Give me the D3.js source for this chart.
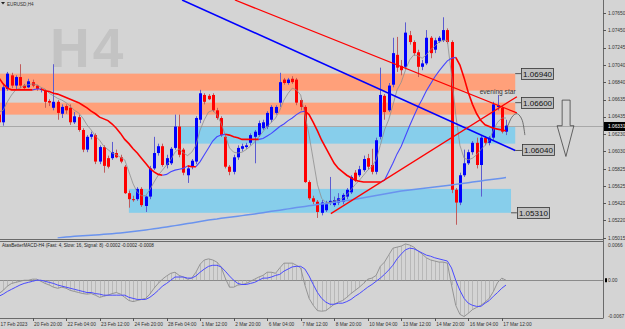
<!DOCTYPE html>
<html>
<head>
<meta charset="utf-8">
<script src="https://cdn.jsdelivr.net/npm/d3@7"></script>
<style>
html, body { margin: 0; padding: 0; background: #d4d4d4; overflow: hidden; }
svg { display: block; font-family: "Liberation Sans", Arial, sans-serif; }
</style>
</head>
<body>
<div id="chart"></div>
<script>
// EURUSD H4 bars, 17 Feb -> 17 Mar 2023
const open = [
  1.0646, 1.0637, 1.0676, 1.0692, 1.0680, 1.0690, 1.0680, 1.0678, 1.0684, 1.0680,
  1.0675, 1.0674, 1.0662, 1.0654, 1.0661, 1.0647, 1.0656, 1.0654, 1.0637, 1.0643,
  1.0628, 1.0605, 1.0620, 1.0622, 1.0591, 1.0608, 1.0595, 1.0595, 1.0601, 1.0596,
  1.0585, 1.0554, 1.0547, 1.0547, 1.0559, 1.0539, 1.0550, 1.0583, 1.0601, 1.0609,
  1.0587, 1.0589, 1.0607, 1.0632, 1.0605, 1.0575, 1.0585, 1.0591, 1.0640, 1.0669,
  1.0668, 1.0669, 1.0651, 1.0642, 1.0620, 1.0585, 1.0579, 1.0596, 1.0606, 1.0608,
  1.0613, 1.0620, 1.0622, 1.0630, 1.0632, 1.0640, 1.0648, 1.0660, 1.0687, 1.0683,
  1.0688, 1.0687, 1.0663, 1.0655, 1.0567, 1.0548, 1.0544, 1.0531, 1.0534, 1.0543,
  1.0540, 1.0543, 1.0544, 1.0550, 1.0555, 1.0578, 1.0575, 1.0581, 1.0595, 1.0587,
  1.0579, 1.0620, 1.0668, 1.0651, 1.0681, 1.0716, 1.0703, 1.0702, 1.0739, 1.0731,
  1.0719, 1.0702, 1.0706, 1.0736, 1.0722, 1.0732, 1.0733, 1.0745, 1.0731, 1.0558,
  1.0543, 1.0575, 1.0589, 1.0602, 1.0613, 1.0587, 1.0619, 1.0613, 1.0619, 1.0655,
  1.0654, 1.0626
];
const high = [
  1.0651, 1.0682, 1.0696, 1.0695, 1.0692, 1.0705, 1.0682, 1.0688, 1.0687, 1.0681,
  1.0677, 1.0676, 1.0664, 1.0705, 1.0663, 1.0658, 1.0658, 1.0658, 1.0649, 1.0646,
  1.0630, 1.0622, 1.0626, 1.0624, 1.0610, 1.0610, 1.0598, 1.0614, 1.0605, 1.0599,
  1.0587, 1.0557, 1.0551, 1.0561, 1.0561, 1.0551, 1.0586, 1.0620, 1.0612, 1.0612,
  1.0599, 1.0608, 1.0646, 1.0646, 1.0607, 1.0586, 1.0594, 1.0644, 1.0675, 1.0671,
  1.0670, 1.0671, 1.0654, 1.0644, 1.0622, 1.0587, 1.0599, 1.0610, 1.0612, 1.0613,
  1.0624, 1.0628, 1.0639, 1.0640, 1.0650, 1.0657, 1.0657, 1.0695, 1.0689, 1.0689,
  1.0691, 1.0689, 1.0665, 1.0657, 1.0569, 1.0551, 1.0546, 1.0546, 1.0545, 1.0573,
  1.0550, 1.0554, 1.0554, 1.0560, 1.0575, 1.0581, 1.0586, 1.0598, 1.0600, 1.0606,
  1.0619, 1.0701, 1.0670, 1.0683, 1.0736, 1.0737, 1.0710, 1.0754, 1.0744, 1.0733,
  1.0722, 1.0710, 1.0745, 1.0738, 1.0736, 1.0738, 1.0760, 1.0747, 1.0733, 1.0560,
  1.0578, 1.0605, 1.0605, 1.0615, 1.0619, 1.0621, 1.0621, 1.0621, 1.0661, 1.0669,
  1.0656, 1.0640
];
const low = [
  1.0635, 1.0633, 1.0674, 1.0677, 1.0675, 1.0677, 1.0675, 1.0677, 1.0678, 1.0674,
  1.0672, 1.0654, 1.0656, 1.0651, 1.0640, 1.0642, 1.0647, 1.0634, 1.0635, 1.0626,
  1.0602, 1.0602, 1.0617, 1.0588, 1.0588, 1.0578, 1.0583, 1.0593, 1.0595, 1.0589,
  1.0553, 1.0537, 1.0544, 1.0545, 1.0538, 1.0532, 1.0547, 1.0581, 1.0598, 1.0585,
  1.0583, 1.0587, 1.0605, 1.0596, 1.0575, 1.0566, 1.0582, 1.0588, 1.0636, 1.0658,
  1.0663, 1.0649, 1.0640, 1.0620, 1.0583, 1.0575, 1.0576, 1.0593, 1.0603, 1.0606,
  1.0610, 1.0589, 1.0620, 1.0628, 1.0629, 1.0637, 1.0646, 1.0655, 1.0681, 1.0681,
  1.0682, 1.0657, 1.0651, 1.0566, 1.0546, 1.0541, 1.0525, 1.0528, 1.0532, 1.0540,
  1.0538, 1.0540, 1.0541, 1.0547, 1.0553, 1.0567, 1.0573, 1.0579, 1.0582, 1.0576,
  1.0576, 1.0617, 1.0640, 1.0649, 1.0678, 1.0696, 1.0692, 1.0699, 1.0728, 1.0715,
  1.0690, 1.0698, 1.0704, 1.0712, 1.0718, 1.0730, 1.0731, 1.0729, 1.0554, 1.0517,
  1.0540, 1.0573, 1.0587, 1.0599, 1.0583, 1.0550, 1.0610, 1.0610, 1.0616, 1.0651,
  1.0624, 1.0622
];
const close = [
  1.0637, 1.0678, 1.0694, 1.0680, 1.0690, 1.0680, 1.0677, 1.0685, 1.0680, 1.0676,
  1.0676, 1.0661, 1.0660, 1.0661, 1.0648, 1.0655, 1.0651, 1.0637, 1.0644, 1.0628,
  1.0605, 1.0620, 1.0623, 1.0591, 1.0608, 1.0586, 1.0585, 1.0602, 1.0596, 1.0591,
  1.0554, 1.0547, 1.0546, 1.0559, 1.0540, 1.0550, 1.0583, 1.0601, 1.0609, 1.0587,
  1.0595, 1.0606, 1.0632, 1.0599, 1.0578, 1.0583, 1.0592, 1.0642, 1.0671, 1.0661,
  1.0664, 1.0651, 1.0642, 1.0622, 1.0585, 1.0579, 1.0596, 1.0607, 1.0609, 1.0610,
  1.0622, 1.0626, 1.0636, 1.0637, 1.0648, 1.0655, 1.0655, 1.0684, 1.0683, 1.0687,
  1.0684, 1.0660, 1.0655, 1.0567, 1.0548, 1.0544, 1.0532, 1.0543, 1.0541, 1.0545,
  1.0546, 1.0548, 1.0552, 1.0558, 1.0573, 1.0569, 1.0582, 1.0594, 1.0585, 1.0579,
  1.0616, 1.0669, 1.0649, 1.0680, 1.0718, 1.0701, 1.0698, 1.0742, 1.0731, 1.0718,
  1.0702, 1.0706, 1.0736, 1.0718, 1.0733, 1.0736, 1.0745, 1.0731, 1.0558, 1.0543,
  1.0575, 1.0589, 1.0602, 1.0613, 1.0587, 1.0619, 1.0613, 1.0619, 1.0658, 1.0657,
  1.0626, 1.06331
];

// two-colour moving average (red falling, blue rising)
const midMA = [
  1.0689, 1.0682, 1.0677, 1.0675, 1.0675, 1.0675, 1.0675, 1.0675, 1.0675, 1.0676,
  1.0676, 1.0674, 1.0673, 1.0671, 1.0670, 1.0668, 1.0666, 1.0664, 1.0662, 1.0660,
  1.0657, 1.0654, 1.0650, 1.0647, 1.0643, 1.0641, 1.0639, 1.0635, 1.0630, 1.0624,
  1.0617, 1.0612, 1.0606, 1.0601, 1.0595, 1.0589, 1.0583, 1.0579, 1.0576, 1.0575,
  1.0576, 1.0579, 1.0581, 1.0582, 1.0583, 1.0586, 1.0585, 1.0585, 1.0591, 1.0599,
  1.0607, 1.0615, 1.0620, 1.0622, 1.0623, 1.0622, 1.0620, 1.0619, 1.0617, 1.0617,
  1.0617, 1.0617, 1.0617, 1.0618, 1.0621, 1.0624, 1.0628, 1.0632, 1.0635, 1.0639,
  1.0642, 1.0646, 1.0649, 1.0650, 1.0646, 1.0637, 1.0627, 1.0616, 1.0607, 1.0598,
  1.0589, 1.0583, 1.0579, 1.0575, 1.0572, 1.0569, 1.0568, 1.0567, 1.0567, 1.0567,
  1.0567, 1.0567, 1.0569, 1.0579, 1.0589, 1.0600, 1.0609, 1.0621, 1.0633, 1.0644,
  1.0655, 1.0664, 1.0674, 1.0682, 1.0690, 1.0697, 1.0703, 1.0709, 1.0712, 1.0713,
  1.0704, 1.0689, 1.0672, 1.0658, 1.0647, 1.0639, 1.0634, 1.0632, 1.0630, 1.0629,
  1.0628, 1.0627
];
// fast grey moving average
const fastMA = [
  1.0649, 1.0651, 1.0661, 1.0669, 1.0675, 1.0677, 1.0680, 1.0681, 1.0682, 1.0681,
  1.0678, 1.0676, 1.0671, 1.0668, 1.0665, 1.0663, 1.0660, 1.0656, 1.0651, 1.0648,
  1.0642, 1.0634, 1.0628, 1.0621, 1.0616, 1.0609, 1.0605, 1.0601, 1.0599, 1.0596,
  1.0593, 1.0579, 1.0565, 1.0555, 1.0551, 1.0551, 1.0558, 1.0567, 1.0575, 1.0581,
  1.0587, 1.0593, 1.0602, 1.0606, 1.0601, 1.0598, 1.0602, 1.0610, 1.0628, 1.0640,
  1.0649, 1.0651, 1.0646, 1.0636, 1.0622, 1.0607, 1.0602, 1.0601, 1.0602, 1.0605,
  1.0609, 1.0614, 1.0620, 1.0626, 1.0632, 1.0637, 1.0642, 1.0651, 1.0663, 1.0671,
  1.0677, 1.0675, 1.0669, 1.0646, 1.0622, 1.0593, 1.0564, 1.0548, 1.0543, 1.0543,
  1.0545, 1.0546, 1.0548, 1.0552, 1.0558, 1.0564, 1.0569, 1.0575, 1.0581, 1.0585,
  1.0593, 1.0610, 1.0628, 1.0640, 1.0657, 1.0675, 1.0684, 1.0698, 1.0710, 1.0716,
  1.0715, 1.0712, 1.0716, 1.0722, 1.0726, 1.0731, 1.0733, 1.0733, 1.0692, 1.0646,
  1.0610, 1.0595, 1.0593, 1.0595, 1.0599, 1.0605, 1.0610, 1.0616, 1.0628, 1.0637,
  1.0642, 1.0642
];
// slow light-blue moving average (below the window before bar 14)
const slowMA = [
  null, null, null, null, null, null, null, null, null, null,
  null, null, null, null, 1.05015, 1.05021, 1.05027, 1.05031, 1.05035, 1.05038,
  1.05041, 1.05044, 1.05048, 1.05051, 1.05054, 1.05058, 1.05062, 1.05066, 1.05070, 1.05074,
  1.05079, 1.05084, 1.05090, 1.05096, 1.05102, 1.05109, 1.05116, 1.05123, 1.05130, 1.05137,
  1.05144, 1.05152, 1.05160, 1.05167, 1.05175, 1.05184, 1.05191, 1.05199, 1.05207, 1.05216,
  1.05226, 1.05232, 1.05237, 1.05245, 1.05252, 1.05259, 1.05265, 1.05271, 1.05277, 1.05284,
  1.05290, 1.05297, 1.05304, 1.05312, 1.05319, 1.05327, 1.05334, 1.05341, 1.05349, 1.05356,
  1.05364, 1.05371, 1.05378, 1.05385, 1.05392, 1.05399, 1.05406, 1.05413, 1.05420, 1.05426,
  1.05433, 1.05440, 1.05447, 1.05453, 1.05460, 1.05469, 1.05478, 1.05487, 1.05495, 1.05504,
  1.05513, 1.05522, 1.05530, 1.05539, 1.05548, 1.05556, 1.05565, 1.05571, 1.05577, 1.05583,
  1.05589, 1.05595, 1.05601, 1.05607, 1.05613, 1.05619, 1.05625, 1.05630, 1.05636, 1.05643,
  1.05650, 1.05656, 1.05663, 1.05670, 1.05676, 1.05683, 1.05690, 1.05696, 1.05703, 1.05710,
  1.05716, 1.05723
];

// MACD sub-window
const macd = [
  -0.0025, -0.0019, -0.0011, -0.0006, -0.0004, -0.0002, 0.0000, 0.0000, 0.0002, 0.0002,
  -0.0002, -0.0006, -0.0009, -0.0013, -0.0015, -0.0013, -0.0015, -0.0019, -0.0021, -0.0023,
  -0.0025, -0.0026, -0.0025, -0.0028, -0.0032, -0.0030, -0.0028, -0.0025, -0.0023, -0.0026,
  -0.0032, -0.0038, -0.0040, -0.0038, -0.0036, -0.0034, -0.0026, -0.0015, -0.0006, 0.0002,
  0.0008, 0.0013, 0.0015, 0.0009, 0.0006, 0.0002, 0.0004, 0.0015, 0.0030, 0.0038,
  0.0040, 0.0038, 0.0034, 0.0025, 0.0004, -0.0013, -0.0013, -0.0009, -0.0008, -0.0006,
  -0.0002, 0.0002, 0.0006, 0.0009, 0.0015, 0.0015, 0.0013, 0.0023, 0.0032, 0.0032,
  0.0032, 0.0028, 0.0023, -0.0009, -0.0034, -0.0047, -0.0057, -0.0058, -0.0057, -0.0051,
  -0.0045, -0.0041, -0.0038, -0.0032, -0.0025, -0.0019, -0.0013, -0.0006, 0.0002, 0.0004,
  0.0009, 0.0026, 0.0034, 0.0047, 0.0060, 0.0062, 0.0064, 0.0068, 0.0066, 0.0062,
  0.0055, 0.0049, 0.0042, 0.0038, 0.0036, 0.0034, 0.0034, 0.0032, -0.0009, -0.0047,
  -0.0064, -0.0068, -0.0062, -0.0055, -0.0051, -0.0047, -0.0041, -0.0034, -0.0021, -0.0004,
  0.0004, 0.0000
];
const signal = [
  -0.0030, -0.0026, -0.0021, -0.0017, -0.0013, -0.0009, -0.0006, -0.0004, -0.0002, 0.0000,
  0.0000, -0.0002, -0.0004, -0.0006, -0.0009, -0.0011, -0.0013, -0.0015, -0.0017, -0.0019,
  -0.0021, -0.0023, -0.0023, -0.0025, -0.0026, -0.0028, -0.0028, -0.0028, -0.0028, -0.0028,
  -0.0028, -0.0032, -0.0034, -0.0036, -0.0036, -0.0036, -0.0032, -0.0026, -0.0019, -0.0011,
  -0.0006, 0.0000, 0.0006, 0.0006, 0.0006, 0.0004, 0.0004, 0.0008, 0.0015, 0.0021,
  0.0026, 0.0028, 0.0028, 0.0025, 0.0017, 0.0008, 0.0000, -0.0006, -0.0008, -0.0008,
  -0.0006, -0.0004, 0.0000, 0.0004, 0.0004, 0.0006, 0.0009, 0.0011, 0.0017, 0.0021,
  0.0025, 0.0026, 0.0026, 0.0021, 0.0008, -0.0008, -0.0023, -0.0034, -0.0041, -0.0045,
  -0.0045, -0.0043, -0.0043, -0.0040, -0.0036, -0.0030, -0.0025, -0.0019, -0.0013, -0.0008,
  -0.0002, 0.0004, 0.0011, 0.0019, 0.0028, 0.0040, 0.0049, 0.0057, 0.0060, 0.0059,
  0.0055, 0.0051, 0.0047, 0.0045, 0.0042, 0.0040, 0.0038, 0.0036, 0.0023, 0.0000,
  -0.0019, -0.0034, -0.0043, -0.0047, -0.0049, -0.0049, -0.0043, -0.0038, -0.0030, -0.0023,
  -0.0015, -0.0009
];

// axes
const priceTicks = [1.0765, 1.0745, 1.07245, 1.0704, 1.0684, 1.06635, 1.06435,
  1.0623, 1.0603, 1.05825, 1.05625, 1.0542, 1.0522, 1.05015];
const macdTicks = [0.0066, 0, -0.0067];
const timeTickBars = [0, 8, 16, 24, 32, 40, 48, 56, 64, 72, 80, 88, 96, 104, 112, 120];
const timeLabels = ["17 Feb 2023", "20 Feb 20:00", "22 Feb 04:00", "23 Feb 12:00",
  "24 Feb 20:00", "28 Feb 04:00", "1 Mar 12:00", "2 Mar 20:00", "6 Mar 04:00",
  "7 Mar 12:00", "8 Mar 20:00", "10 Mar 04:00", "13 Mar 12:00", "14 Mar 20:00",
  "16 Mar 04:00", "17 Mar 12:00"];
const lastPrice = 1.06331;

// drawn objects: zones [fromBar, toBar, top, bottom], lines [[bar, price], [bar, price]]
const supplyZones = [[-1, 123.2, 1.0694, 1.0674], [-1, 123.2, 1.0660, 1.0646]];
const demandZones = [[43.2, 123.2, 1.0632, 1.0612], [31, 122.2, 1.0559, 1.0531]];
const blueTrend = [[43.7, 1.07802], [123.2, 1.0604]];
const redTrendDown = [[56.3, 1.07802], [123.6, 1.0648]];
const redTrendUp = [[79.2, 1.0530], [123.6, 1.0667]];
// price labels: [fromBar, boxBar, price]
const priceLabels = [[123.2, 124.6, 1.0694], [123.2, 124.6, 1.0660], [123.2, 124.8, 1.0604], [122.2, 123.6, 1.0531]];
const noteText = "evening star";
const notePos = [119, 1.0670];
const arcPoints = [[121.2, 1.0630], [122.4, 1.0643], [123.7, 1.0647], [124.9, 1.0639], [125.5, 1.0622]];
const arrowPoints = [[134.4, 1.0663], [136.3, 1.0663], [136.3, 1.0633], [137.2, 1.0633],
  [135.3, 1.0597], [133.2, 1.0633], [134.4, 1.0633]];

const width = 625, height = 329;
const axisX = 603;
const mainBottom = 238, indTop = 241, indBottom = 318;

const svg = d3.select("#chart").append("svg")
  .attr("width", width)
  .attr("height", height);

svg.append("rect").attr("width", width).attr("height", height).attr("fill", "#d4d4d4");

const x = d3.scaleLinear().domain([0, 121]).range([-1, 506]);
const y = d3.scaleLinear().domain([1.05015, 1.0765]).range([238, 13]);
const yi = d3.scaleLinear().domain([-0.0067, 0.0066]).range([316, 245]);
const px = (i) => Math.round(x(i)) + 0.5;

const defs = svg.append("defs");
defs.append("clipPath").attr("id", "clipMain")
  .append("rect").attr("x", 0).attr("y", 0).attr("width", axisX).attr("height", mainBottom + 0.5);
defs.append("clipPath").attr("id", "clipInd")
  .append("rect").attr("x", 0).attr("y", indTop).attr("width", axisX).attr("height", indBottom - indTop);

// watermark
svg.append("text")
  .attr("x", 50).attr("y", 67)
  .attr("font-size", 55).attr("font-weight", "bold")
  .attr("letter-spacing", 3)
  .attr("fill", "#c3c3c3")
  .text("H4");

const main = svg.append("g").attr("clip-path", "url(#clipMain)");

// zones
main.selectAll("rect.supply").data(supplyZones).join("rect")
  .attr("x", (d) => x(d[0])).attr("width", (d) => x(d[1]) - x(d[0]))
  .attr("y", (d) => y(d[2])).attr("height", (d) => y(d[3]) - y(d[2]))
  .attr("fill", "#ffa07a");
main.selectAll("rect.demand").data(demandZones).join("rect")
  .attr("x", (d) => x(d[0])).attr("width", (d) => x(d[1]) - x(d[0]))
  .attr("y", (d) => y(d[2])).attr("height", (d) => y(d[3]) - y(d[2]))
  .attr("fill", "#87ceeb");

// bid line
main.append("line")
  .attr("x1", 0).attr("x2", axisX)
  .attr("y1", Math.round(y(lastPrice)) + 0.5).attr("y2", Math.round(y(lastPrice)) + 0.5)
  .attr("stroke", "#a8a8a8").attr("stroke-width", 1);

// candles
const bars = d3.range(close.length);
const up = (i) => close[i] >= open[i];
main.append("g").selectAll("line").data(bars).join("line")
  .attr("x1", px).attr("x2", px)
  .attr("y1", (i) => y(high[i])).attr("y2", (i) => y(low[i]))
  .attr("stroke", (i) => (up(i) ? "#5c5cd0" : "#c05c5c"))
  .attr("stroke-width", 1);
main.append("g").selectAll("rect").data(bars).join("rect")
  .attr("x", (i) => Math.round(x(i)) - 1)
  .attr("width", 3)
  .attr("y", (i) => y(Math.max(open[i], close[i])))
  .attr("height", (i) => Math.max(1, Math.abs(y(open[i]) - y(close[i]))))
  .attr("fill", (i) => (up(i) ? "#0000ff" : "#ff0000"));

// moving averages
const maLine = d3.line()
  .defined((d) => d[1] != null)
  .x((d) => x(d[0]))
  .y((d) => y(d[1]));

main.append("path")
  .attr("d", maLine(slowMA.map((v, i) => [i, v])))
  .attr("fill", "none").attr("stroke", "#6a93ee").attr("stroke-width", 1.5);

main.append("path")
  .attr("d", maLine(fastMA.map((v, i) => [i, v])))
  .attr("fill", "none").attr("stroke", "#8e8e8e").attr("stroke-width", 0.8);

// split the two-colour MA into runs of same direction
const runs = [];
let dir = "down";
for (let i = 1; i < midMA.length; i++) {
  if (midMA[i] > midMA[i - 1]) dir = "up";
  else if (midMA[i] < midMA[i - 1]) dir = "down";
  const last = runs[runs.length - 1];
  if (last && last.dir === dir) last.pts.push([i, midMA[i]]);
  else runs.push({ dir, pts: [[i - 1, midMA[i - 1]], [i, midMA[i]]] });
}
main.selectAll("path.mid").data(runs).join("path")
  .attr("d", (r) => maLine(r.pts))
  .attr("fill", "none")
  .attr("stroke", (r) => (r.dir === "up" ? "#4646ff" : "#ff0000"))
  .attr("stroke-width", (r) => (r.dir === "up" ? 1.1 : 1.6));

// trend lines
const trend = (pts, color, w) =>
  main.append("path").attr("d", maLine(pts))
    .attr("fill", "none").attr("stroke", color).attr("stroke-width", w);
trend(blueTrend, "#0000ff", 1.6);
trend(redTrendDown, "#ff0000", 1.3);
trend(redTrendUp, "#ff0000", 1.3);

// projection arc and down arrow
main.append("path")
  .attr("d", d3.line().curve(d3.curveCardinal).x((d) => x(d[0])).y((d) => y(d[1]))(arcPoints))
  .attr("fill", "none").attr("stroke", "#555").attr("stroke-width", 0.8);
main.append("path")
  .attr("d", d3.line().x((d) => x(d[0])).y((d) => y(d[1]))(arrowPoints) + "Z")
  .attr("fill", "none").attr("stroke", "#444").attr("stroke-width", 0.8);

main.append("text")
  .attr("x", x(notePos[0])).attr("y", y(notePos[1]))
  .attr("text-anchor", "middle")
  .attr("font-size", 6.6).attr("fill", "#333")
  .text(noteText);

// price label boxes
const labels = main.selectAll("g.plabel").data(priceLabels).join("g");
labels.append("line")
  .attr("x1", (d) => x(d[0])).attr("x2", (d) => x(d[1]))
  .attr("y1", (d) => y(d[2])).attr("y2", (d) => y(d[2]))
  .attr("stroke", "#333").attr("stroke-width", 0.8);
labels.append("rect")
  .attr("x", (d) => Math.round(x(d[1])) + 0.5)
  .attr("y", (d) => Math.round(y(d[2])) - 5.5)
  .attr("width", 32).attr("height", 11)
  .attr("fill", "#bfbfbf").attr("stroke", "#333").attr("stroke-width", 0.8);
labels.append("text")
  .attr("x", (d) => x(d[1]) + 16.5)
  .attr("y", (d) => Math.round(y(d[2])) + 3)
  .attr("text-anchor", "middle")
  .attr("font-size", 8).attr("fill", "#111")
  .text((d) => d[2].toFixed(5));

// symbol caption
svg.append("path").attr("d", "M1,2 L5,2 L3,4.5 Z").attr("fill", "#222");
svg.append("text").attr("x", 7).attr("y", 5.5).attr("font-size", 4.6).attr("fill", "#333").text("EURUSD,H4");

// indicator window
const ind = svg.append("g").attr("clip-path", "url(#clipInd)");
ind.append("line")
  .attr("x1", 0).attr("x2", axisX)
  .attr("y1", Math.round(yi(0)) + 0.5).attr("y2", Math.round(yi(0)) + 0.5)
  .attr("stroke", "#8a8a8a").attr("stroke-width", 1);
ind.append("g").selectAll("line").data(bars).join("line")
  .attr("x1", px).attr("x2", px)
  .attr("y1", yi(0)).attr("y2", (i) => yi(macd[i]))
  .attr("stroke", "#a4a4a4").attr("stroke-width", 0.6);
const indLine = d3.line().x((d, i) => x(i)).y((d) => yi(d));
ind.append("path").attr("d", indLine(macd))
  .attr("fill", "none").attr("stroke", "#8c8c8c").attr("stroke-width", 0.9);
ind.append("path").attr("d", indLine(signal))
  .attr("fill", "none").attr("stroke", "#4a4aff").attr("stroke-width", 1);
svg.append("text").attr("x", 2).attr("y", 246.5).attr("font-size", 4.6).attr("fill", "#222")
  .text("AtasBetterMACD-H4 (Fast: 4, Slow: 16, Signal: 8) -0.0002 -0.0002 -0.0008");

// frame lines
const frame = svg.append("g").attr("stroke", "#6a6a6a").attr("stroke-width", 1);
frame.append("line").attr("x1", 0).attr("x2", axisX).attr("y1", 239.5).attr("y2", 239.5);
frame.append("line").attr("x1", 0).attr("x2", axisX).attr("y1", 241.5).attr("y2", 241.5);
frame.append("line").attr("x1", 0).attr("x2", axisX).attr("y1", indBottom + 0.5).attr("y2", indBottom + 0.5);
frame.append("line").attr("x1", axisX + 0.5).attr("x2", axisX + 0.5).attr("y1", 0).attr("y2", indBottom + 0.5);

// right price axis
const pAxis = svg.append("g").attr("font-size", 4.8).attr("fill", "#333");
pAxis.selectAll("line").data(priceTicks).join("line")
  .attr("x1", axisX).attr("x2", axisX + 3)
  .attr("y1", (d) => Math.round(y(d)) + 0.5).attr("y2", (d) => Math.round(y(d)) + 0.5)
  .attr("stroke", "#555");
pAxis.selectAll("text").data(priceTicks).join("text")
  .attr("x", axisX + 5).attr("y", (d) => y(d) + 1.7)
  .text((d) => d.toFixed(5));

svg.append("rect").attr("x", axisX + 1).attr("y", Math.round(y(lastPrice)) - 4)
  .attr("width", 22).attr("height", 9).attr("fill", "#000");
svg.append("text").attr("x", axisX + 5).attr("y", y(lastPrice) + 2.2)
  .attr("font-size", 4.8).attr("fill", "#fff").text(lastPrice.toFixed(5));

const mAxis = svg.append("g").attr("font-size", 4.8).attr("fill", "#333");
mAxis.selectAll("text").data(macdTicks).join("text")
  .attr("x", axisX + 5).attr("y", (d) => yi(d) + 1.7)
  .text((d) => (d === 0 ? "0.00" : d.toFixed(4)));
svg.append("rect").attr("x", axisX + 2).attr("y", yi(0) - 2).attr("width", 2).attr("height", 4).attr("fill", "#000");

// time axis
const tAxis = svg.append("g").attr("font-size", 4.8).attr("fill", "#333");
tAxis.selectAll("line").data(timeTickBars).join("line")
  .attr("x1", px).attr("x2", px)
  .attr("y1", indBottom).attr("y2", indBottom + 3)
  .attr("stroke", "#555");
tAxis.selectAll("text").data(timeTickBars).join("text")
  .attr("x", (d) => x(d) + 1.5).attr("y", 325.5)
  .text((d, i) => timeLabels[i]);
</script>
</body>
</html>
